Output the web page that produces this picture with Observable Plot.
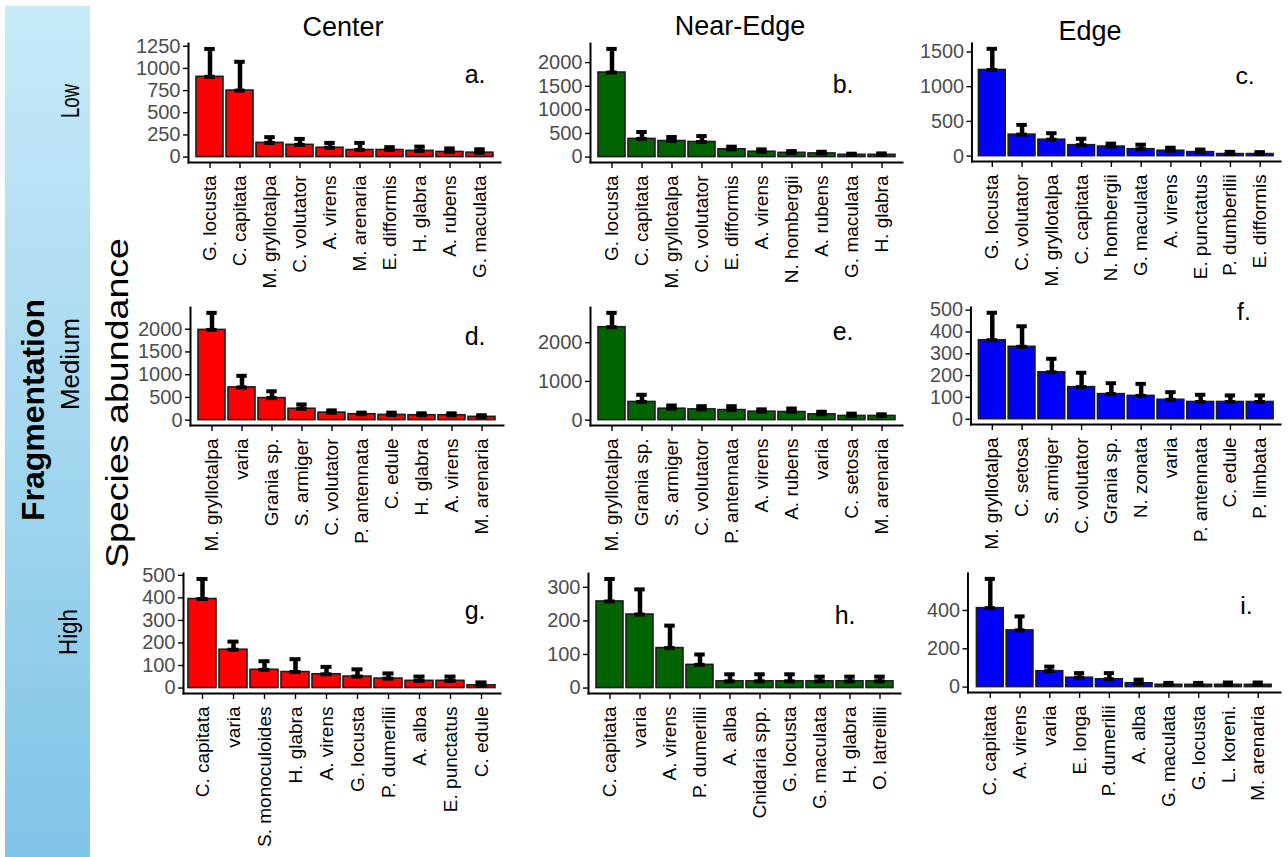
<!DOCTYPE html>
<html>
<head>
<meta charset="utf-8">
<script src="https://cdn.jsdelivr.net/npm/d3@7"></script>
<script src="https://cdn.jsdelivr.net/npm/@observablehq/plot@0.6"></script>
<style>
  html, body { margin: 0; padding: 0; background: #fff; }
  #root { position: relative; width: 1288px; height: 857px; overflow: hidden; font-family: "Liberation Sans", Arial, sans-serif; }
  #root > svg.bg { position: absolute; left: 0; top: 0; }
  .panel { position: absolute; }
  .panel svg { overflow: visible; background: transparent; }
</style>
</head>
<body>
<div id="root"></div>
<script>
// ---------- DATA ----------
const columns = ["Center", "Near-Edge", "Edge"];
const fragLevels = ["Low", "Medium", "High"];
const panelLetters = ["a.", "b.", "c.", "d.", "e.", "f.", "g.", "h.", "i."];

// Low fragmentation
const lowCenterSpecies = ["G. locusta", "C. capitata", "M. gryllotalpa", "C. volutator", "A. virens", "M. arenaria", "E. difformis", "H. glabra", "A. rubens", "G. maculata"];
const lowCenterMean  = [905, 750, 160, 138, 105, 80, 80, 70, 58, 50];
const lowCenterUpper = [1220, 1075, 225, 205, 160, 160, 112, 118, 98, 88];
const lowCenterTicks = [0, 250, 500, 750, 1000, 1250];

const lowNearSpecies = ["G. locusta", "C. capitata", "M. gryllotalpa", "C. volutator", "E. difformis", "A. virens", "N. hombergii", "A. rubens", "G. maculata", "H. glabra"];
const lowNearMean  = [1790, 385, 340, 320, 165, 113, 90, 78, 48, 48];
const lowNearUpper = [2290, 530, 425, 445, 220, 163, 127, 113, 72, 78];
const lowNearTicks = [0, 500, 1000, 1500, 2000];

const lowEdgeSpecies = ["G. locusta", "C. volutator", "M. gryllotalpa", "C. capitata", "N. hombergii", "G. maculata", "A. virens", "E. punctatus", "P. dumberilii", "E. difformis"];
const lowEdgeMean  = [1240, 310, 237, 158, 138, 100, 78, 58, 30, 30];
const lowEdgeUpper = [1545, 450, 330, 250, 180, 165, 122, 95, 62, 58];
const lowEdgeTicks = [0, 500, 1000, 1500];

// Medium fragmentation
const medCenterSpecies = ["M. gryllotalpa", "varia", "Grania sp.", "S. armiger", "C. volutator", "P. antennata", "C. edule", "H. glabra", "A. virens", "M. arenaria"];
const medCenterMean  = [1985, 720, 485, 250, 165, 130, 115, 108, 108, 72];
const medCenterUpper = [2360, 975, 635, 345, 215, 165, 165, 150, 150, 108];
const medCenterTicks = [0, 500, 1000, 1500, 2000];

const medNearSpecies = ["M. gryllotalpa", "Grania sp.", "S. armiger", "C. volutator", "P. antennata", "A. virens", "A. rubens", "varia", "C. setosa", "M. arenaria"];
const medNearMean  = [2400, 470, 295, 278, 260, 218, 210, 150, 108, 108];
const medNearUpper = [2770, 655, 378, 360, 360, 278, 300, 218, 168, 150];
const medNearTicks = [0, 1000, 2000];

const medEdgeSpecies = ["M. gryllotalpa", "C. setosa", "S. armiger", "C. volutator", "Grania sp.", "N. zonata", "varia", "P. antennata", "C. edule", "P. limbata"];
const medEdgeMean  = [362, 332, 215, 147, 115, 107, 89, 79, 79, 79];
const medEdgeUpper = [488, 426, 277, 213, 165, 162, 124, 112, 109, 109];
const medEdgeTicks = [0, 100, 200, 300, 400, 500];

// High fragmentation
const highCenterSpecies = ["C. capitata", "varia", "S. monoculoides", "H. glabra", "A. virens", "G. locusta", "P. dumerilii", "A. alba", "E. punctatus", "C. edule"];
const highCenterMean  = [395, 170, 81, 71, 61, 51, 42, 32, 32, 12];
const highCenterUpper = [484, 206, 119, 128, 94, 83, 65, 51, 51, 25];
const highCenterTicks = [0, 100, 200, 300, 400, 500];

const highNearSpecies = ["C. capitata", "varia", "A. virens", "P. dumerilii", "A. alba", "Cnidaria spp.", "G. locusta", "G. maculata", "H. glabra", "O. latreillii"];
const highNearMean  = [258, 219, 119, 69, 20, 20, 20, 20, 20, 20];
const highNearUpper = [325, 294, 186, 100, 41, 41, 41, 34, 34, 34];
const highNearTicks = [0, 100, 200, 300];

const highEdgeSpecies = ["C. capitata", "A. virens", "varia", "E. longa", "P. dumerilii", "A. alba", "G. maculata", "G. locusta", "L. koreni.", "M. arenaria"];
const highEdgeMean  = [412, 296, 83, 49, 41, 20, 12, 12, 12, 12];
const highEdgeUpper = [565, 369, 107, 73, 73, 39, 22, 22, 24, 24];
const highEdgeTicks = [0, 200, 400];

// ---------- STYLE / LAYOUT ----------
const columnColors = ["#ff0000", "#006400", "#0000ff"];
const FONT = '"Liberation Sans", Arial, Helvetica, sans-serif';

// frame boxes (left, right, top, bottom) in page pixels and letter offsets
const panels = [
  {species: lowCenterSpecies, mean: lowCenterMean, upper: lowCenterUpper, ticks: lowCenterTicks, col: 0, L: 188, R: 500, T: 43, B: 162, ldx: -15, ldy: 31},
  {species: lowNearSpecies,   mean: lowNearMean,   upper: lowNearUpper,   ticks: lowNearTicks,   col: 1, L: 590, R: 902, T: 43, B: 162, ldx: -49, ldy: 41},
  {species: lowEdgeSpecies,   mean: lowEdgeMean,   upper: lowEdgeUpper,   ticks: lowEdgeTicks,   col: 2, L: 972, R: 1283, T: 43, B: 162, ldx: -26, ldy: 33},
  {species: medCenterSpecies, mean: medCenterMean, upper: medCenterUpper, ticks: medCenterTicks, col: 0, L: 190, R: 503, T: 307, B: 425, ldx: -18, ldy: 29},
  {species: medNearSpecies,   mean: medNearMean,   upper: medNearUpper,   ticks: medNearTicks,   col: 1, L: 590, R: 902, T: 307, B: 425, ldx: -49, ldy: 24},
  {species: medEdgeSpecies,   mean: medEdgeMean,   upper: medEdgeUpper,   ticks: medEdgeTicks,   col: 2, L: 971, R: 1283, T: 307, B: 425, ldx: -30, ldy: 5},
  {species: highCenterSpecies, mean: highCenterMean, upper: highCenterUpper, ticks: highCenterTicks, col: 0, L: 183, R: 500, T: 573, B: 693, ldx: -15, ldy: 37},
  {species: highNearSpecies,   mean: highNearMean,   upper: highNearUpper,   ticks: highNearTicks,   col: 1, L: 588, R: 900, T: 573, B: 693, ldx: -45, ldy: 42},
  {species: highEdgeSpecies,   mean: highEdgeMean,   upper: highEdgeUpper,   ticks: highEdgeTicks,   col: 2, L: 968, R: 1283, T: 573, B: 693, ldx: -28, ldy: 33}
];

const root = document.getElementById("root");
const NS = "http://www.w3.org/2000/svg";

// ---------- background: fragmentation band, side labels, column titles ----------
const bg = document.createElementNS(NS, "svg");
bg.setAttribute("class", "bg");
bg.setAttribute("width", 1288);
bg.setAttribute("height", 857);
bg.innerHTML = `
  <defs>
    <linearGradient id="band" x1="0" y1="0" x2="0" y2="1">
      <stop offset="0" stop-color="#c8eaf8"/>
      <stop offset="1" stop-color="#80c4e7"/>
    </linearGradient>
  </defs>
  <rect x="5" y="6" width="85" height="851" fill="url(#band)"/>
`;
function addText(txt, x, y, opts) {
  const t = document.createElementNS(NS, "text");
  t.textContent = txt;
  t.setAttribute("x", x);
  t.setAttribute("y", y);
  t.setAttribute("font-family", FONT);
  t.setAttribute("font-size", opts.size);
  t.setAttribute("text-anchor", opts.anchor || "middle");
  if (opts.weight) t.setAttribute("font-weight", opts.weight);
  if (opts.rotate) t.setAttribute("transform", `rotate(${opts.rotate} ${x} ${y})`);
  if (opts.length) { t.setAttribute("textLength", opts.length); t.setAttribute("lengthAdjust", "spacingAndGlyphs"); }
  t.setAttribute("fill", opts.fill || "black");
  bg.appendChild(t);
}
// fragmentation levels
addText(fragLevels[0], 79, 101, {size: 25, rotate: -90, length: 34});
addText(fragLevels[1], 79, 364, {size: 25, rotate: -90, length: 92});
addText(fragLevels[2], 77, 632, {size: 25, rotate: -90, length: 46});
addText("Fragmentation", 44, 410, {size: 31, weight: "bold", rotate: -90, length: 222});
addText("Species abundance", 128, 403, {size: 32, rotate: -90, length: 330});
// column titles
addText(columns[0], 343, 36, {size: 27});
addText(columns[1], 740, 35, {size: 27});
addText(columns[2], 1090, 40, {size: 27});
root.appendChild(bg);

// ---------- panels ----------
const mL = 70, mR = 8, mT = 8, mB = 150;
panels.forEach((p, i) => {
  const rows = p.species.map((s, k) => ({species: s, mean: p.mean[k], upper: p.upper[k]}));
  const M = d3.max(p.upper);
  const fw = p.R - p.L;
  const step = fw / (p.species.length - 0.1 + 0.3);
  const capInset = Math.max(0, (step * 0.9 - 11) / 2);
  const color = columnColors[p.col];
  const chart = Plot.plot({
    width: fw + mL + mR,
    height: (p.B - p.T) + mT + mB,
    marginLeft: mL, marginRight: mR, marginTop: mT, marginBottom: mB,
    style: {fontFamily: FONT, background: "transparent", overflow: "visible"},
    x: {domain: p.species, paddingInner: 0.1, paddingOuter: 0.15, label: null, axis: null},
    y: {domain: [-0.05 * M, 1.05 * M], label: null, axis: null},
    marks: [
      Plot.barY(rows, {x: "species", y1: 0, y2: "mean", fill: color, stroke: "#1c1c1c", strokeWidth: 1.6}),
      Plot.ruleX(rows, {x: "species", y1: "mean", y2: "upper", stroke: "black", strokeWidth: 4.5}),
      Plot.tickY(rows, {x: "species", y: "upper", stroke: "black", strokeWidth: 4, inset: capInset}),
      Plot.tickY(rows, {x: "species", y: "mean", stroke: "black", strokeWidth: 4, inset: capInset}),
      Plot.axisY({ticks: p.ticks, tickFormat: d => String(d), tickSize: 5, tickPadding: 3, fontSize: 20, stroke: "black", strokeWidth: 1.4, fill: "#4d4d4d", label: null}),
      Plot.axisX({tickRotate: -90, tickSize: 6, tickPadding: 7, fontSize: 19, stroke: "black", strokeWidth: 1.4, fill: "black", label: null}),
      Plot.frame({anchor: "left", stroke: "black", strokeWidth: 2}),
      Plot.frame({anchor: "bottom", stroke: "black", strokeWidth: 2}),
      Plot.text([panelLetters[i]], {frameAnchor: "top-right", textAnchor: "end", lineAnchor: "middle", dx: p.ldx, dy: p.ldy, fontSize: 25, fill: "black"})
    ]
  });
  const wrap = document.createElement("div");
  wrap.className = "panel";
  wrap.style.left = (p.L - mL) + "px";
  wrap.style.top = (p.T - mT) + "px";
  wrap.appendChild(chart);
  root.appendChild(wrap);
});
</script>
</body>
</html>
